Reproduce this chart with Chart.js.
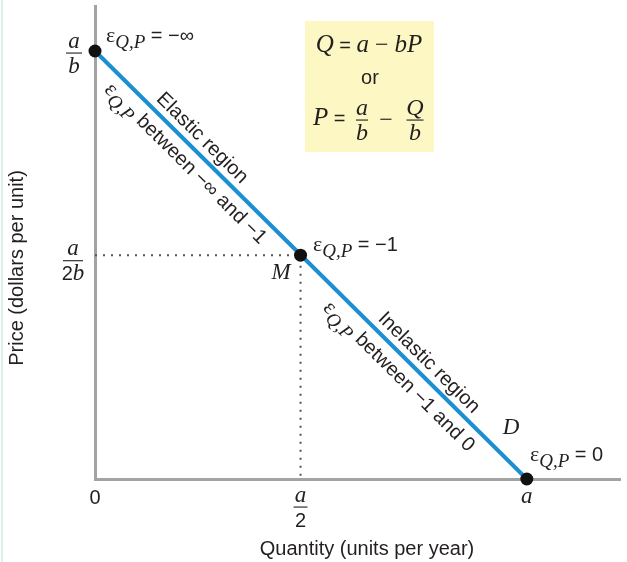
<!DOCTYPE html>
<html>
<head>
<meta charset="utf-8">
<script src="https://cdn.jsdelivr.net/npm/chart.js@4.4.1/dist/chart.umd.min.js"></script>
<style>
  html, body { margin: 0; padding: 0; background: #fff; }
  #wrap { width: 627px; height: 562px; }
</style>
</head>
<body>
<div id="wrap"><canvas id="elasticity" width="627" height="562"></canvas></div>
<script>
"use strict";

// Q as a share of a, P as a share of a/b
const quantity = [0, 0.476, 1];
const price = [1, 0.523, 0];

const xTicks = [0, 0.476, 1];
const xTickLabels = [["0"], ["a", "2"], ["a"]];
const yTicks = [0.523, 1];
const yTickLabels = [["a", "2b"], ["a", "b"]];

const xMax = 1.217;
const yMax = 1.104;

const SANS = '"Liberation Sans", Arial, sans-serif';
const SERIF = '"Liberation Serif", "Times New Roman", serif';
const GRAY = "#a3a3a3";
const BLUE = "#1b8fd2";
const INK = "#231f20";

function rich(ctx, parts, x, y, align) {
	let w = 0;
	parts.forEach(p => { ctx.font = p[1]; w += ctx.measureText(p[0]).width; });
	let cx = align === "center" ? x - w / 2 : x;
	ctx.textAlign = "left";
	ctx.textBaseline = "alphabetic";
	parts.forEach(p => {
		ctx.font = p[1];
		ctx.fillText(p[0], cx, y + (p[2] || 0));
		cx += ctx.measureText(p[0]).width;
	});
}

function fraction(ctx, num, den, cx, barY, numFont, denFont, barW) {
	ctx.textAlign = "center";
	ctx.textBaseline = "alphabetic";
	ctx.font = numFont;
	ctx.fillText(num, cx, barY - 5);
	ctx.font = denFont;
	ctx.fillText(den, cx, barY + 20);
	ctx.fillRect(cx - barW / 2, barY - 0.5, barW, 1.1);
}

function eps(rest, size) {
	return [
		["ε", `22px ${SERIF}`],
		["Q,P", `italic 19px ${SERIF}`, 6],
		[rest, `${size || 20}px ${SANS}`]
	];
}

const annotations = {
	id: "annotations",
	afterDraw(chart) {
		const ctx = chart.ctx;
		const x = chart.scales.x, y = chart.scales.y;
		ctx.save();

		// faint page edge
		ctx.fillStyle = "#dcefef";
		ctx.fillRect(1, 0, 2, 562);
		ctx.fillStyle = INK;

		// tick labels
		xTicks.forEach((v, i) => {
			const px = x.getPixelForValue(v);
			const lab = xTickLabels[i];
			if (lab.length === 2) {
				fraction(ctx, lab[0], lab[1], px, 507, `italic 23px ${SERIF}`, `20px ${SANS}`, 14);
			} else if (lab[0] === "0") {
				ctx.font = `20px ${SANS}`; ctx.textAlign = "center";
				ctx.fillText("0", px, 504);
			} else {
				ctx.font = `italic 23px ${SERIF}`; ctx.textAlign = "center";
				ctx.fillText(lab[0], px, 503);
			}
		});
		yTicks.forEach((v, i) => {
			const py = y.getPixelForValue(v);
			const lab = yTickLabels[i];
			if (lab[1] === "b") {
				fraction(ctx, lab[0], lab[1], 74, py + 2, `italic 23px ${SERIF}`, `italic 23px ${SERIF}`, 16);
			} else {
				ctx.textAlign = "center";
				ctx.font = `italic 23px ${SERIF}`;
				ctx.fillText(lab[0], 73, py);
				rich(ctx, [["2", `20px ${SANS}`], ["b", `italic 23px ${SERIF}`]], 73, py + 25, "center");
				ctx.fillRect(63, py + 5, 20, 1.1);
			}
		});

		// axis titles
		ctx.font = `20px ${SANS}`;
		ctx.textAlign = "center";
		ctx.textBaseline = "middle";
		ctx.fillText("Quantity (units per year)", 367, 549);
		ctx.save();
		ctx.translate(17, 268);
		ctx.rotate(-Math.PI / 2);
		ctx.fillText("Price (dollars per unit)", 0, 0);
		ctx.restore();

		// formula box
		ctx.fillStyle = "#fdf7c4";
		ctx.fillRect(305, 21, 129, 131);
		ctx.fillStyle = INK;
		rich(ctx, [
			["Q", `italic 25px ${SERIF}`], [" = ", `20px ${SANS}`], ["a", `italic 25px ${SERIF}`],
			[" − ", `24px ${SERIF}`], ["bP", `italic 25px ${SERIF}`]
		], 369, 52, "center");
		ctx.font = `20px ${SANS}`; ctx.textAlign = "center"; ctx.textBaseline = "alphabetic";
		ctx.fillText("or", 370, 84);
		rich(ctx, [["P", `italic 25px ${SERIF}`], [" =", `20px ${SANS}`]], 313, 125, "left");
		fraction(ctx, "a", "b", 362, 120, `italic 24px ${SERIF}`, `italic 24px ${SERIF}`, 12);
		ctx.font = `24px ${SERIF}`; ctx.textAlign = "center";
		ctx.fillText("−", 386, 127);
		fraction(ctx, "Q", "b", 415, 120, `italic 24px ${SERIF}`, `italic 24px ${SERIF}`, 17);

		// labels at the three points
		rich(ctx, eps(" = −∞"), 106, 42, "left");
		rich(ctx, eps(" = −1"), 313, 251, "left");
		rich(ctx, eps(" = 0"), 530, 461, "left");
		ctx.font = `italic 23px ${SERIF}`; ctx.textAlign = "center";
		ctx.fillText("M", 281, 279);
		ctx.fillText("D", 511, 434);

		// texts running along the demand line
		const p0 = { x: x.getPixelForValue(quantity[0]), y: y.getPixelForValue(price[0]) };
		const p1 = { x: x.getPixelForValue(quantity[2]), y: y.getPixelForValue(price[2]) };
		const ang = Math.atan2(p1.y - p0.y, p1.x - p0.x);
		const along = (s, off, parts) => {
			ctx.save();
			ctx.translate(p0.x + s * (p1.x - p0.x), p0.y + s * (p1.y - p0.y));
			ctx.rotate(ang);
			rich(ctx, parts, 0, off, "center");
			ctx.restore();
		};
		along(0.226, -8, [["Elastic region", `20px ${SANS}`]]);
		along(0.236, 22, eps(" between −∞ and −1"));
		along(0.751, -8, [["Inelastic region", `20px ${SANS}`]]);
		along(0.732, 23, eps(" between −1 and 0"));

		ctx.restore();
	}
};

const pts = quantity.map((q, i) => ({ x: q, y: price[i] }));
const guide = [
	{ x: 0, y: price[1] },
	{ x: quantity[1], y: price[1] },
	{ x: quantity[1], y: 0 }
];

new Chart(document.getElementById("elasticity"), {
	type: "scatter",
	data: {
		datasets: [
			{ data: pts, pointRadius: 6.5, backgroundColor: "#111", borderWidth: 0, clip: false },
			{ data: [pts[0], pts[2]], showLine: true, borderColor: BLUE, borderWidth: 4, pointRadius: 0, clip: false },
			{ data: guide, showLine: true, borderColor: "#555", borderWidth: 2, borderDash: [2, 6], pointRadius: 0, clip: false }
		]
	},
	options: {
		responsive: false,
		animation: false,
		layout: { padding: { left: 95, right: 0, top: 0, bottom: 83 } },
		plugins: { legend: { display: false }, tooltip: { enabled: false } },
		scales: {
			x: {
				type: "linear", min: 0, max: xMax,
				grid: { display: false, drawTicks: false },
				border: { display: true, color: GRAY, width: 3 },
				ticks: { display: false },
				afterFit(s) { s.height = 0; }
			},
			y: {
				type: "linear", min: 0, max: yMax,
				grid: { display: false, drawTicks: false },
				border: { display: true, color: GRAY, width: 3 },
				ticks: { display: false },
				afterFit(s) { s.width = 0; }
			}
		}
	},
	plugins: [annotations]
});
</script>
</body>
</html>
